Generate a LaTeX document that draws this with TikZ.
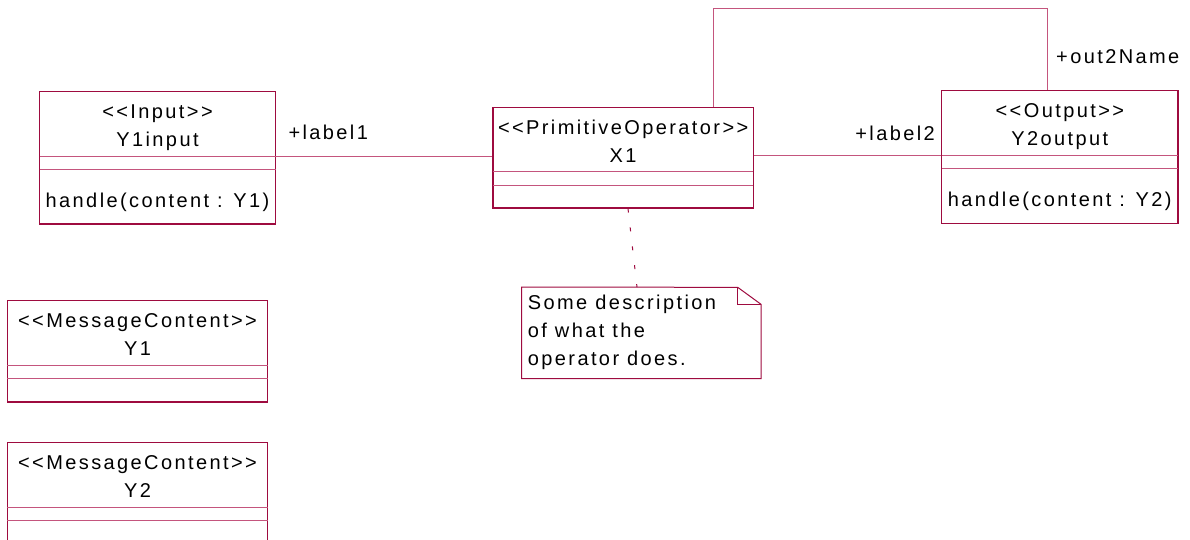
\documentclass[tikz,border=0pt]{standalone}
\usepackage{fontspec}
\setmainfont{Liberation Sans}[Ligatures=TeXOff, LetterSpace=12]
\usetikzlibrary{fit}

\definecolor{umlRed}{HTML}{9E0B3F}
\definecolor{umlPink}{HTML}{C4557D}

\tikzset{
  classbox/.style={draw=umlRed, line width=1.1pt, inner sep=0pt},
  compline/.style={umlPink, line width=1pt},
  assoc/.style={umlPink, line width=1pt},
  notelink/.style={umlRed, line width=1pt, dash pattern=on 4pt off 15pt},
  txt/.style={inner sep=0pt, anchor=base, text=black}
}

% class box: name, left, top, right, bottom, stereotype, title, operation
\providecommand{\umlclass}[8]{%
  \coordinate (#1-nw) at (#2,#3);
  \coordinate (#1-se) at (#4,#5);
  \coordinate (#1-sep) at (#2,#3+64.5);
  \node[classbox, fit=(#1-nw)(#1-se)] (#1) {};
  \draw[compline] (#2,#3+64.5) -- (#4,#3+64.5);
  \draw[compline] (#2,#3+78) -- (#4,#3+78);
  \node[txt] (#1-st) at ({(#2+#4)/2},#3+27) {#6};
  \node[txt] (#1-nm) at ({(#2+#4)/2},#3+55) {#7};
  \node[txt, anchor=base west] (#1-op) at (#2+6,#3+116) {#8};
}

\begin{document}
\begin{tikzpicture}[x=1pt, y=-1pt, font=\fontsize{20pt}{28pt}\selectfont]

  \useasboundingbox (0,0) rectangle (1190,539);
  \clip (0,0) rectangle (1190,539);

  % --------------------------------------------------------------------------
  % Classes
  % --------------------------------------------------------------------------
  \umlclass{y1in}{39.5}{91.7}{275.5}{224}{<<Input>>}{Y1input}{handle(content : Y1)}
  \umlclass{x1}{493}{107.3}{753.3}{208}{<<PrimitiveOperator>>}{X1}{}
  \umlclass{y2out}{941.7}{90.7}{1178}{223.3}{<<Output>>}{Y2output}{handle(content : Y2)}
  \umlclass{msg1}{7.3}{300.7}{267.7}{402}{<<MessageContent>>}{Y1}{}
  \umlclass{msg2}{7.3}{442.7}{267.7}{570}{<<MessageContent>>}{Y2}{}

  % --------------------------------------------------------------------------
  % Associations
  % --------------------------------------------------------------------------
  \draw[assoc] (y1in-sep -| y1in.east) -- (y1in-sep -| x1.west);
  \draw[assoc] (y2out-sep -| x1.east) -- (y2out-sep -| y2out.west);

  \coordinate (loopL) at (713.7,8.3);
  \coordinate (loopR) at (1047.7,8.3);
  \draw[assoc] (loopL |- x1.north) -- (loopL) -- (loopR) -- (loopR |- y2out.north);

  \node[txt, anchor=base west] (lab1) at (288.3,139.3) {+label1};
  \node[txt, anchor=base east] (lab2) at (935,140) {+label2};
  \node[txt, anchor=base west] (labOut) at (1056,63.3) {+out2Name};

  % --------------------------------------------------------------------------
  % Note attached to X1
  % --------------------------------------------------------------------------
  \coordinate (note-nw) at (521.7,287.3);
  \coordinate (note-se) at (761,378.3);
  \node[inner sep=0pt, fit=(note-nw)(note-se)] (note) {};
  \draw[umlRed, line width=1pt]
    (note.north west) -- (737.7,287.3) -- (761,304.3) -- (note.south east)
    -- (note.south west) -- cycle;
  \draw[umlRed, line width=1pt] (737.7,287.3) -- (737.7,304.3) -- (761,304.3);
  \node[txt, anchor=north west, align=left] (noteText) at (527.7,294.4)
    {Some description\\of what the\\operator does.};

  \coordinate (linkA) at (628,0);
  \coordinate (linkB) at (637,0);
  \draw[notelink] (linkA |- x1.south) -- (linkB |- note.north);

\end{tikzpicture}
\end{document}
